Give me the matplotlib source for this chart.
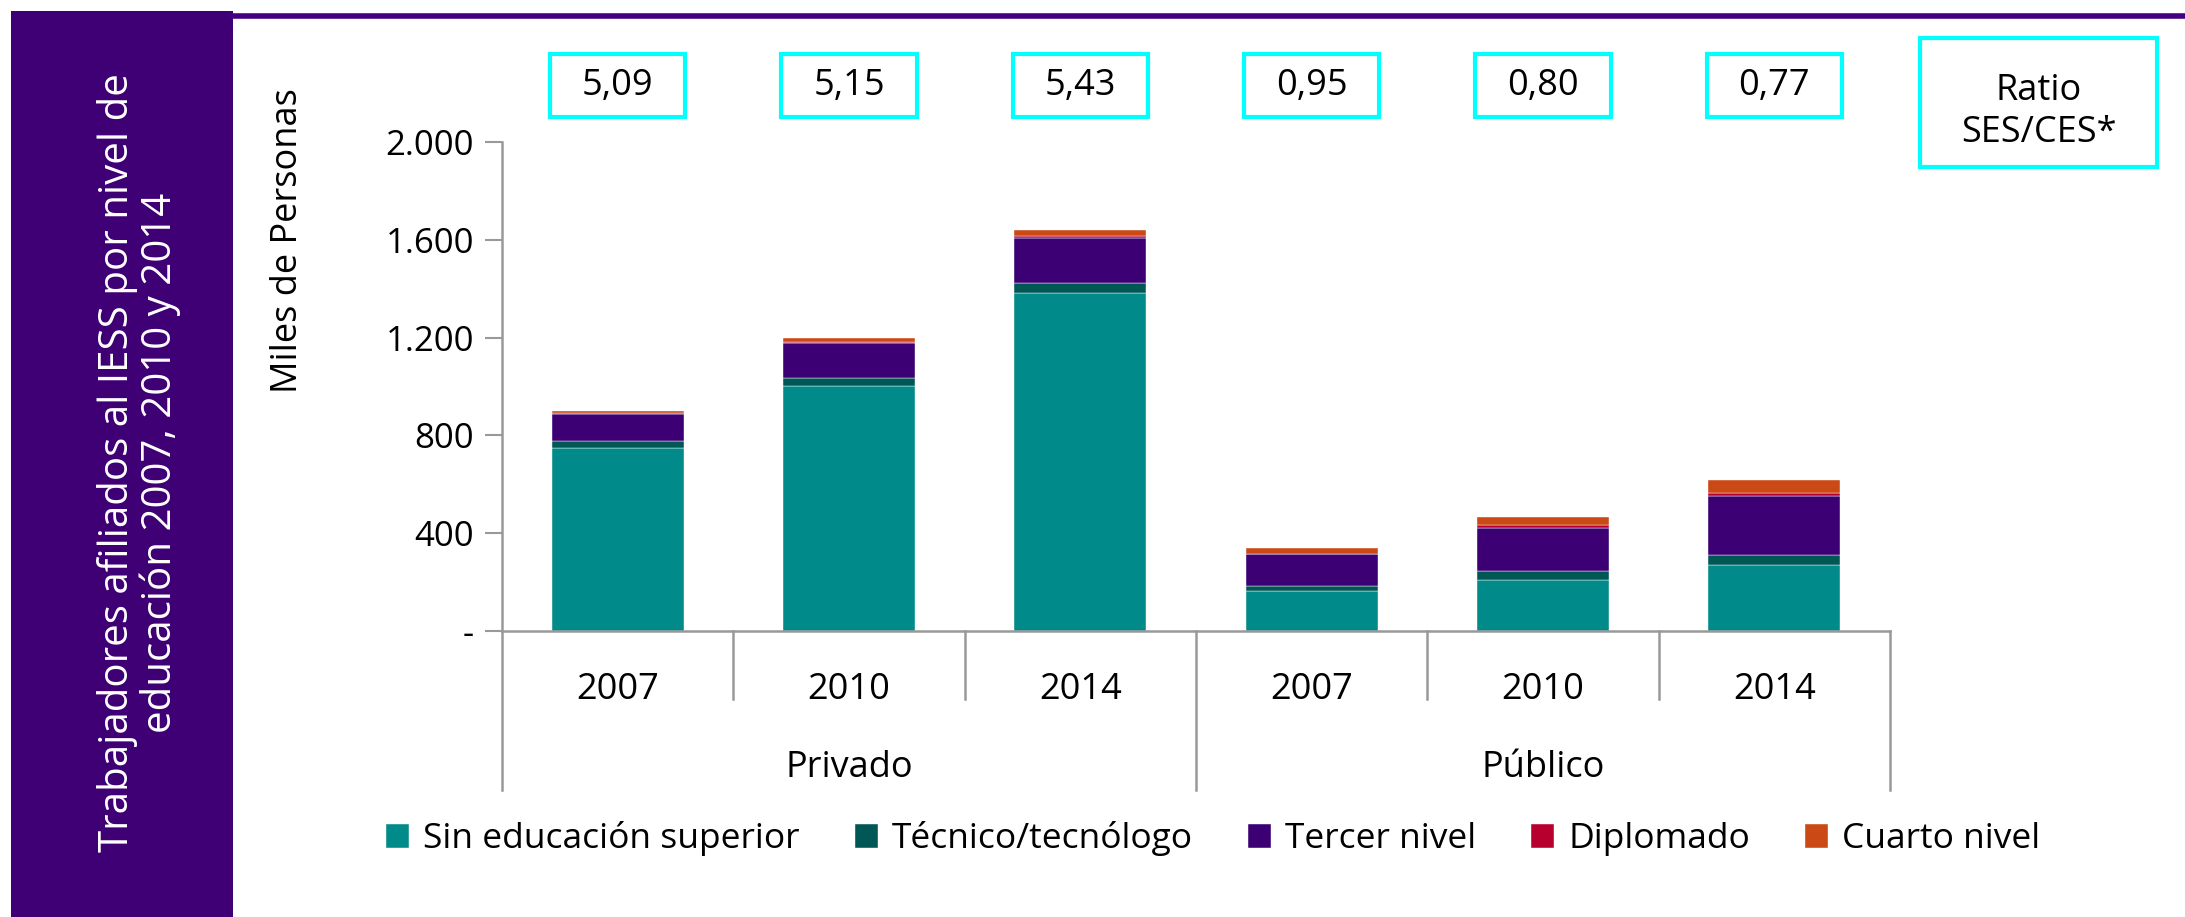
import numpy as np
import matplotlib.pyplot as plt
from matplotlib.patches import Rectangle
import matplotlib.transforms as mtransforms

plt.rcParams['font.family'] = ['Open Sans', 'DejaVu Sans']

# data (miles de personas)
years = ['2007', '2010', '2014', '2007', '2010', '2014']
groups = ['Privado', 'Público']
sin_superior = [750, 1004, 1384, 163, 207, 269]
tecnico = [27, 30, 40, 23, 37, 40]
tercer_nivel = [109, 143, 185, 127, 178, 245]
diplomado = [5, 6, 6, 3, 12, 12]
cuarto_nivel = [7, 14, 25, 22, 34, 53]
ratios = ['5,09', '5,15', '5,43', '0,95', '0,80', '0,77']

series = [
    ('Sin educación superior', sin_superior, '#008B8A'),
    ('Técnico/tecnólogo', tecnico, '#005755'),
    ('Tercer nivel', tercer_nivel, '#3D0074'),
    ('Diplomado', diplomado, '#B8002F'),
    ('Cuarto nivel', cuarto_nivel, '#CB4914'),
]

W, H = 2185, 917
fig = plt.figure(figsize=(W / 100, H / 100), dpi=100)

# left purple panel + top line
fig.patches.append(Rectangle((11 / W, 0), (233 - 11) / W, 1 - 11 / H,
                             transform=fig.transFigure, facecolor='#3E0074',
                             edgecolor='none', zorder=0))
fig.lines.append(plt.Line2D([233 / W, 1], [1 - 16 / H, 1 - 16 / H],
                            transform=fig.transFigure, color='#440080', lw=4))
fig.text(139 / W, 1 - 463 / H,
         'Trabajadores afiliados al IESS por nivel de\neducación 2007, 2010 y 2014',
         rotation=90, ha='center', va='center', color='white', fontsize=29,
         linespacing=1.05)

ax = fig.add_axes([502 / W, 1 - 631 / H, (1890 - 502) / W, (631 - 142) / H])

x = np.arange(len(years))
bottom = np.zeros(len(years))
for name, vals, col in series:
    ax.bar(x, vals, width=0.57, bottom=bottom, color=col, label=name,
           edgecolor='white', linewidth=0.3)
    bottom += np.array(vals)

ax.set_xlim(-0.5, len(years) - 0.5)
ax.set_ylim(0, 2000)
ax.set_yticks([0, 400, 800, 1200, 1600, 2000])
ax.set_yticklabels(['-', '400', '800', '1.200', '1.600', '2.000'], fontsize=25)
ax.tick_params(axis='y', direction='out', length=12, width=1.5, color='#999999', pad=8)
ax.set_xticks([])
for s in ['top', 'right']:
    ax.spines[s].set_visible(False)
for s in ['left', 'bottom']:
    ax.spines[s].set_color('#999999')
    ax.spines[s].set_linewidth(1.8)

# category separators and labels below the axis
trans = mtransforms.blended_transform_factory(ax.transData, ax.transAxes)
for b in np.arange(-0.5, len(years), 1.0):
    low = -0.325 if b in (-0.5, 2.5, 5.5) else -0.14
    ax.plot([b, b], [0, low], transform=trans, color='#999999', lw=1.8,
            clip_on=False)
for i, yr in enumerate(years):
    ax.text(i, -0.12, yr, transform=trans, ha='center', va='center', fontsize=26)
for g, name in enumerate(groups):
    ax.text(g * 3 + 1, -0.28, name, transform=trans, ha='center', va='center',
            fontsize=26)

# ratio boxes
bw, bh = 0.584, 0.129
for i, r in enumerate(ratios):
    ax.add_patch(Rectangle((i - bw / 2, 1.1155 - bh / 2), bw, bh, transform=trans,
                           facecolor='white', edgecolor='#00FFFF', lw=3,
                           clip_on=False))
    ax.text(i, 1.1155, r, transform=trans, ha='center', va='center', fontsize=26)

fig.patches.append(Rectangle((1920 / W, 1 - 167 / H), (2157 - 1920) / W, (167 - 38) / H,
                             transform=fig.transFigure, facecolor='white',
                             edgecolor='#00FFFF', lw=3))
fig.text((1920 + 2157) / 2 / W, 1 - 112 / H, 'Ratio\nSES/CES*', ha='center',
         va='center', fontsize=26, linespacing=1.25)

fig.text(288 / W, 1 - 241 / H, 'Miles de Personas', rotation=90, ha='center',
         va='center', fontsize=26)

fig.legend(loc='center', bbox_to_anchor=(1213 / W, 1 - 839 / H), ncol=5,
           frameon=False, fontsize=25.5, handlelength=0.65, handleheight=0.65,
           handletextpad=0.4, columnspacing=1.55)

fig.savefig('out.png', dpi=100)
